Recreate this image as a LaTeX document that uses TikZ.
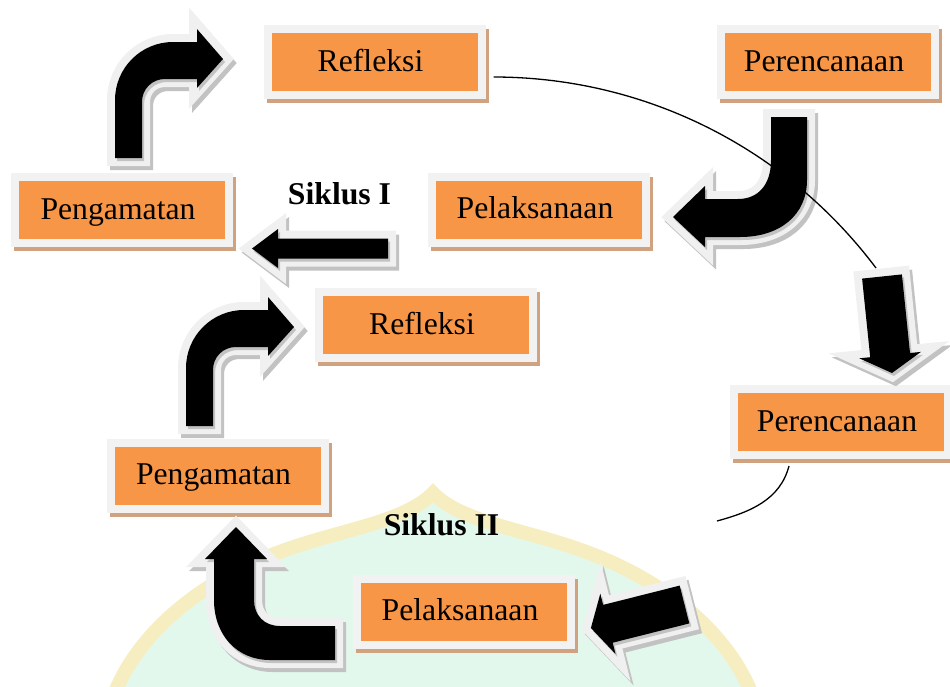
\documentclass[tikz,border=0pt]{standalone}
\usepackage{fontspec}
\setmainfont{Liberation Serif}
\usetikzlibrary{backgrounds}
\definecolor{boxorange}{HTML}{F79646}
\definecolor{boxrim}{HTML}{F2F2F2}
\definecolor{boxshadecol}{HTML}{D0A27F}
\definecolor{arrowrimcol}{HTML}{F0F0F0}
\definecolor{arrowshadecol}{HTML}{C2C2C2}
\definecolor{wmfillcol}{HTML}{E3F8EC}
\definecolor{wmedgecol}{HTML}{F6EEC0}
\newcommand\arrowrim[1]{%
  \path[arrshadow, shift={(3,4)}] #1;
  \path[arrrim] #1;
  \path[arrinshade, shift={(2,3)}] #1;}
\newcommand\arrowbody[1]{\path[arrbody] #1;}
\newcommand\boxshadow[1]{\fill[boxshade] ([shift={(-1,0)}]#1.north west) rectangle ([shift={(7,8)}]#1.south east);}
\newcommand\boxtext[1]{#1\hspace*{8pt}}
\def\pathA{(115,158) -- (115,100) .. controls (115,68) and (141,42) .. (173,42) -- (197,42) -- (197,29) -- (223,59) -- (197,88) -- (197,79) -- (165,79) .. controls (152,79) and (142,89) .. (142,102) -- (142,158) -- cycle}
\def\pathB{(771,117) -- (807,117) -- (807,180) .. controls (807,215) and (780,237) .. (740,237) -- (705,237) -- (705,247) -- (673,217) -- (705,186) -- (705,199) -- (738,199) .. controls (758,199) and (771,185) .. (771,160) -- cycle}
\def\pathD{(252,248.5) -- (278,229) -- (278,238.5) -- (388,238.5) -- (388,258.5) -- (278,258.5) -- (278,268) -- cycle}
\def\pathE{(862.1,278.6) -- (901.9,274.4) -- (910.0,353.0) -- (920.9,351.9) -- (892.0,373.0) -- (859.3,358.3) -- (870.2,357.2) -- cycle}
\def\pathF{(679.7,585.6) -- (689.3,623.4) -- (612.7,642.7) -- (615.5,653.9) -- (590.9,628.0) -- (600.3,593.7) -- (603.1,604.9) -- cycle}
\def\pathG{(335,626) -- (335,660) -- (270,660) .. controls (237,660) and (214,635) .. (214,600) -- (214,559) -- (205,559) -- (236,527) -- (267,559) -- (254,559) -- (254,600) .. controls (254,615) and (264,626) .. (280,626) -- cycle}
\begin{document}
\begin{tikzpicture}[x=1pt,y=-1pt,
  obox/.style={rectangle, fill=boxorange, draw=boxrim, line width=8pt,
    minimum width=214pt, minimum height=66pt, inner sep=0pt, outer sep=0pt,
    text height=24pt, text depth=6pt, font=\fontsize{31.7}{38}\selectfont},
  lbl/.style={font=\fontsize{31.7}{38}\selectfont\bfseries, anchor=base, inner sep=0pt},
  arrshadow/.style={fill=arrowshadecol, draw=arrowshadecol, line width=16pt, line join=miter},
  arrrim/.style={fill=arrowrimcol, draw=arrowrimcol, line width=16pt, line join=miter},
  arrinshade/.style={fill=arrowshadecol},
  arrbody/.style={fill=black},
  conn/.style={draw=black, line width=1.3pt},
  boxshade/.style={fill=boxshadecol},
  wmfill/.style={fill=wmfillcol},
  wmedge/.style={draw=wmedgecol, line width=14pt}
]
\useasboundingbox (0,0) rectangle (950,686);

% boxes
\node[obox] (R1) at (374.5,62) {\boxtext{Refleksi}};
\node[obox] (P1) at (828,62) {\boxtext{Perencanaan}};
\node[obox] (G1) at (122,210) {\boxtext{Pengamatan}};
\node[obox] (L1) at (539,209.5) {\boxtext{Pelaksanaan}};
\node[obox] (R2) at (426,325) {\boxtext{Refleksi}};
\node[obox] (P2) at (841,422) {\boxtext{Perencanaan}};
\node[obox] (G2) at (217.5,475.5) {\boxtext{Pengamatan}};
\node[obox] (L2) at (464,611.5) {\boxtext{Pelaksanaan}};

\node[lbl] (S1) at (339.5,204) {Siklus I};
\node[lbl] (S2) at (441.5,535) {Siklus II};

\begin{scope}[on background layer]
  % faint watermark
  \fill[wmfill] (433,493) .. controls (405,522) and (340,530) .. (285,550)
     .. controls (200,580) and (135,635) .. (112,700) -- (754,700)
     .. controls (731,635) and (666,580) .. (581,550)
     .. controls (526,530) and (461,522) .. (433,493) -- cycle;
  \draw[wmedge] (112,700) .. controls (135,635) and (200,580) .. (285,550)
     .. controls (340,530) and (405,522) .. (433,493)
     .. controls (461,522) and (526,530) .. (581,550)
     .. controls (666,580) and (731,635) .. (754,700);
  % box shadows
  \boxshadow{R1}\boxshadow{P1}\boxshadow{G1}\boxshadow{L1}
  \boxshadow{R2}\boxshadow{P2}\boxshadow{G2}\boxshadow{L2}
\end{scope}

% arrow rims and shadows
\expandafter\arrowrim\expandafter{\pathA}
\begin{scope}[shift={(71,268)}]
  \expandafter\arrowrim\expandafter{\pathA}
\end{scope}
\expandafter\arrowrim\expandafter{\pathB}
\expandafter\arrowrim\expandafter{\pathD}
\expandafter\arrowrim\expandafter{\pathE}
\expandafter\arrowrim\expandafter{\pathF}
\expandafter\arrowrim\expandafter{\pathG}

% connectors
\coordinate (c1e) at (876,268);
\coordinate (c2e) at (717,521);
\draw[conn] ([shift={(12,15)}]R1.east) .. controls (644,77) and (785,147) .. (c1e);
\draw[conn] ([shift={(-52,11)}]P2.south) .. controls (780,500) and (750,512) .. (c2e);

% arrow bodies
\expandafter\arrowbody\expandafter{\pathA}
\begin{scope}[shift={(71,268)}]
  \expandafter\arrowbody\expandafter{\pathA}
\end{scope}
\expandafter\arrowbody\expandafter{\pathB}
\expandafter\arrowbody\expandafter{\pathD}
\expandafter\arrowbody\expandafter{\pathE}
\expandafter\arrowbody\expandafter{\pathF}
\expandafter\arrowbody\expandafter{\pathG}
\end{tikzpicture}
\end{document}
